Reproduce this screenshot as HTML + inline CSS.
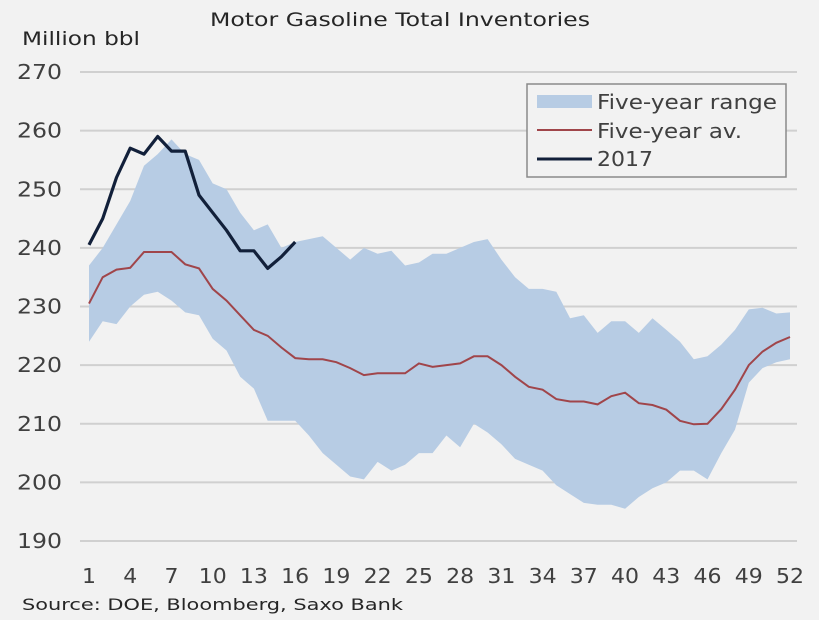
<!DOCTYPE html>
<html><head><meta charset="utf-8"><style>
html,body{margin:0;padding:0;background:#f2f2f2;}
svg{display:block;font-family:"DejaVu Sans","Liberation Sans",sans-serif;}
</style></head><body>
<svg id="chart" width="819" height="620" viewBox="0 0 819 620">
<rect x="0" y="0" width="819" height="620" fill="#f2f2f2"/>
<text x="210" y="26" font-size="19" textLength="380" lengthAdjust="spacingAndGlyphs" fill="#262626">Motor Gasoline Total Inventories</text>
<text x="22" y="45" font-size="19" textLength="118" lengthAdjust="spacingAndGlyphs" fill="#262626">Million bbl</text>
<g id="grid"></g><g id="yticks"></g><g id="xticks"></g>
<path id="range" fill="#b7cce4"/>
<path id="avg" fill="none" stroke="#a0454a" stroke-width="2"/>
<path id="y2017" fill="none" stroke="#12203a" stroke-width="3.2" stroke-linejoin="round"/>
<g>
<rect x="527" y="84" width="259" height="93" fill="#f2f2f2" stroke="#8a8a8a" stroke-width="1.5"/>
<rect x="537" y="95" width="55" height="13" fill="#b7cce4"/>
<text x="597" y="109" font-size="20" textLength="180" lengthAdjust="spacingAndGlyphs" fill="#404040">Five-year range</text>
<line x1="537" y1="130" x2="592" y2="130" stroke="#a0454a" stroke-width="2"/>
<text x="597" y="138" font-size="20" textLength="145" lengthAdjust="spacingAndGlyphs" fill="#404040">Five-year av.</text>
<line x1="537" y1="159" x2="592" y2="159" stroke="#12203a" stroke-width="3"/>
<text x="597" y="166" font-size="20" textLength="56" lengthAdjust="spacingAndGlyphs" fill="#404040">2017</text>
</g>
<text x="22" y="610" font-size="16" textLength="381" lengthAdjust="spacingAndGlyphs" fill="#262626">Source: DOE, Bloomberg, Saxo Bank</text>
</svg>
<script>
const weeks=[];for(let i=1;i<=52;i++)weeks.push(i);
const yTicks=[190,200,210,220,230,240,250,260,270];
const xTickLabels=[1,4,7,10,13,16,19,22,25,28,31,34,37,40,43,46,49,52];
const avgValues=[230.5,235,236.3,236.6,239.3,239.3,239.3,237.2,236.5,233,231,228.5,226,225,223,221.2,221,221,220.5,219.5,218.3,218.6,218.6,218.6,220.3,219.7,220,220.3,221.5,221.5,220,218,216.3,215.8,214.2,213.8,213.8,213.3,214.7,215.3,213.5,213.2,212.4,210.5,209.9,210,212.5,215.8,220,222.3,223.8,224.8];
const highValues=[237,240,244,248,254,256,258.5,256,255,251,250,246,243,244,240,241,241.5,242,240,238,240,239,239.5,237,237.5,239,239,240,241,241.5,238,235,233,233,232.5,228,228.5,225.5,227.5,227.5,225.5,228,226,224,221,221.5,223.5,226,229.5,229.8,228.8,229];
const lowValues=[224,227.5,227,230,232,232.5,231,229,228.5,224.5,222.5,218,216,210.5,210.5,210.5,208,205,203,201,200.5,203.5,202,203,205,205,208,206,210,208.5,206.5,204,203,202,199.5,198,196.5,196.2,196.2,195.5,197.5,199,200,202,202,200.5,205,209,217,219.5,220.5,221];
const values2017=[240.5,245,252,257,256,259,256.5,256.5,249,246,243,239.5,239.5,236.5,238.5,241];
const X=w=>89+(w-1)*(701/51);
const Y=v=>72+(270-v)*(469/80);
const ns="http://www.w3.org/2000/svg";
const grid=document.getElementById('grid'),yt=document.getElementById('yticks'),xt=document.getElementById('xticks');
yTicks.forEach(t=>{
 const l=document.createElementNS(ns,'line');
 l.setAttribute('x1',80);l.setAttribute('x2',797);l.setAttribute('y1',Y(t));l.setAttribute('y2',Y(t));
 l.setAttribute('stroke','#d0d0d0');l.setAttribute('stroke-width','2');
 
 
 grid.appendChild(l);
 const tx=document.createElementNS(ns,'text');
 tx.setAttribute('x',62);tx.setAttribute('y',Y(t)+7);tx.setAttribute('text-anchor','end');
 tx.setAttribute('font-size','20');tx.setAttribute('fill','#404040');tx.textContent=t;
 tx.setAttribute('textLength',String(t).length*15);tx.setAttribute('lengthAdjust','spacingAndGlyphs');
 
 
 yt.appendChild(tx);
});
xTickLabels.forEach(t=>{
 const tx=document.createElementNS(ns,'text');
 tx.setAttribute('x',X(t));tx.setAttribute('y',583);tx.setAttribute('text-anchor','middle');
 tx.setAttribute('font-size','20');tx.setAttribute('fill','#404040');tx.textContent=t;
 tx.setAttribute('textLength',String(t).length*14);tx.setAttribute('lengthAdjust','spacingAndGlyphs');
 
 
 xt.appendChild(tx);
});
let d=weeks.map((w,i)=>(i?'L':'M')+X(w).toFixed(1)+','+Y(highValues[i]).toFixed(1)).join('');
for(let i=weeks.length-1;i>=0;i--)d+='L'+X(weeks[i]).toFixed(1)+','+Y(lowValues[i]).toFixed(1);
document.getElementById('range').setAttribute('d',d+'Z');
document.getElementById('avg').setAttribute('d',weeks.map((w,i)=>(i?'L':'M')+X(w).toFixed(1)+','+Y(avgValues[i]).toFixed(1)).join(''));
document.getElementById('y2017').setAttribute('d',values2017.map((v,i)=>(i?'L':'M')+X(weeks[i]).toFixed(1)+','+Y(v).toFixed(1)).join(''));
</script>
</body></html>
